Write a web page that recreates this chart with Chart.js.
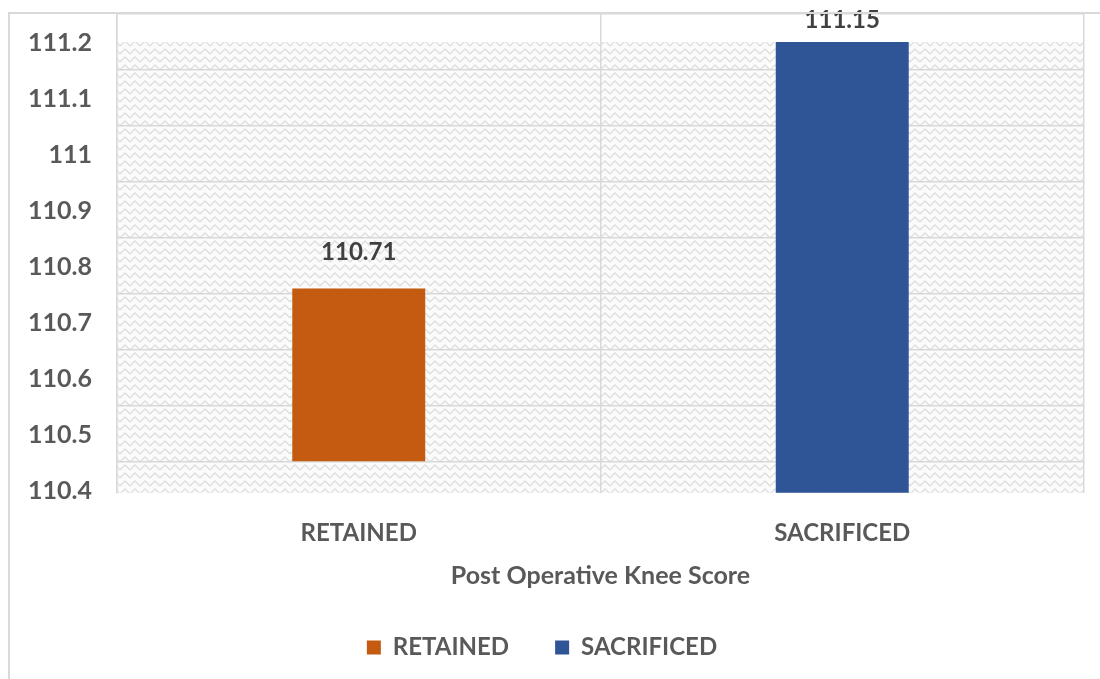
<!DOCTYPE html>
<html>
<head>
<meta charset="utf-8">
<script src="https://cdn.jsdelivr.net/npm/chart.js@4.4.0/dist/chart.umd.min.js"></script>
<style>
  html, body { margin: 0; padding: 0; background: #fff; }
  #wrap { position: relative; width: 1100px; height: 679px; overflow: hidden; }
  #frame { position: absolute; left: 8px; top: 12px; right: -10px; bottom: -10px;
           border-left: 2px solid #d9d9d9; border-top: 2px solid #d9d9d9; pointer-events: none; }
</style>
</head>
<body>
<div id="wrap">
  <canvas id="chart" width="1100" height="679"></canvas>
  <div id="frame"></div>
</div>
<script>
// Dane
const categories = ['RETAINED', 'SACRIFICED'];
const retainedValues = [110.71, null];
const sacrificedValues = [null, 111.15];
const yTicks = [110.4, 110.5, 110.6, 110.7, 110.8, 110.9, 111, 111.1, 111.2];
const yTickLabels = ['110.4', '110.5', '110.6', '110.7', '110.8', '110.9', '111', '111.1', '111.2'];

const FONT = 'Lato';
const TEXT = '#595959';
const GRID = '#d9d9d9';

// Wzór tła (jasne zygzaki)
function makeHatch() {
    const c = document.createElement('canvas');
    c.width = 10; c.height = 8;
    const g = c.getContext('2d');
    g.fillStyle = '#fbfbfb';
    g.fillRect(0, 0, 10, 8);
    g.strokeStyle = '#dedede';
    g.lineWidth = 1.3;
    g.beginPath();
    g.moveTo(0, 6); g.lineTo(5, 1); g.lineTo(10, 6);
    g.moveTo(-5, 9); g.lineTo(0, 4);
    g.stroke();
    return g.createPattern(c, 'repeat');
}

const hatchPlugin = {
    id: 'hatch',
    beforeDraw(chart) {
        const { ctx, chartArea, scales } = chart;
        const top = scales.y.getPixelForValue(111.15);
        ctx.save();
        ctx.fillStyle = makeHatch();
        ctx.fillRect(chartArea.left, top, chartArea.right - chartArea.left, chartArea.bottom - top);
        ctx.restore();
    }
};

const valueLabels = {
    id: 'valueLabels',
    afterDatasetsDraw(chart) {
        const { ctx, chartArea } = chart;
        ctx.save();
        ctx.font = 'bold 24px ' + FONT;
        ctx.fillStyle = '#404040';
        ctx.textAlign = 'center';
        ctx.textBaseline = 'middle';
        chart.data.datasets.forEach((ds, di) => {
            chart.getDatasetMeta(di).data.forEach((bar, i) => {
                if (ds.data[i] == null) return;
                const y = Math.max(chartArea.top + 6, bar.y - 36);
                ctx.fillText(ds.data[i].toFixed(2), bar.x, y);
            });
        });
        ctx.restore();
    }
};

new Chart(document.getElementById('chart'), {
    type: 'bar',
    data: {
        labels: categories,
        datasets: [
            { label: 'RETAINED', data: retainedValues, backgroundColor: '#c55a11', base: 110.4 },
            { label: 'SACRIFICED', data: sacrificedValues, backgroundColor: '#2f5597' }
        ]
    },
    options: {
        responsive: false,
        animation: false,
        grouped: false,
        barPercentage: 1,
        categoryPercentage: 0.275,
        layout: { padding: { left: 0, right: 16, top: 14, bottom: 9.6 } },
        scales: {
            x: {
                grid: { color: GRID, lineWidth: 1.5, drawTicks: false, offset: true },
                border: { display: false },
                ticks: { padding: 26, color: TEXT, font: { family: FONT, size: 24, weight: 'bold' } },
                title: {
                    display: true, text: 'Post Operative Knee Score', color: TEXT,
                    font: { family: FONT, size: 25, weight: 'bold' }, padding: { top: 0, bottom: -1.4 }
                },
                afterFit: s => { s.height = 96.6; s.paddingLeft = 0; s.paddingRight = 0; }
            },
            y: {
                min: 110.345,
                max: 111.2,
                afterBuildTicks: s => { s.ticks = yTicks.map(v => ({ value: v })); },
                afterFit: s => { s.width = 117; s.paddingTop = 0; s.paddingBottom = 0; },
                grid: { color: GRID, lineWidth: 1.5, drawTicks: false },
                border: { color: GRID, width: 1.5 },
                ticks: {
                    autoSkip: false,
                    callback: (v, i) => yTickLabels[i],
                    labelOffset: 29,
                    padding: 25,
                    color: TEXT,
                    font: { family: FONT, size: 25, weight: 'bold' }
                }
            }
        },
        plugins: {
            legend: {
                position: 'bottom',
                labels: {
                    boxWidth: 14, boxHeight: 14, padding: 46, color: TEXT,
                    font: { family: FONT, size: 24, weight: 'bold' }
                }
            },
            tooltip: { enabled: false }
        }
    },
    plugins: [hatchPlugin, valueLabels]
});
</script>
</body>
</html>
